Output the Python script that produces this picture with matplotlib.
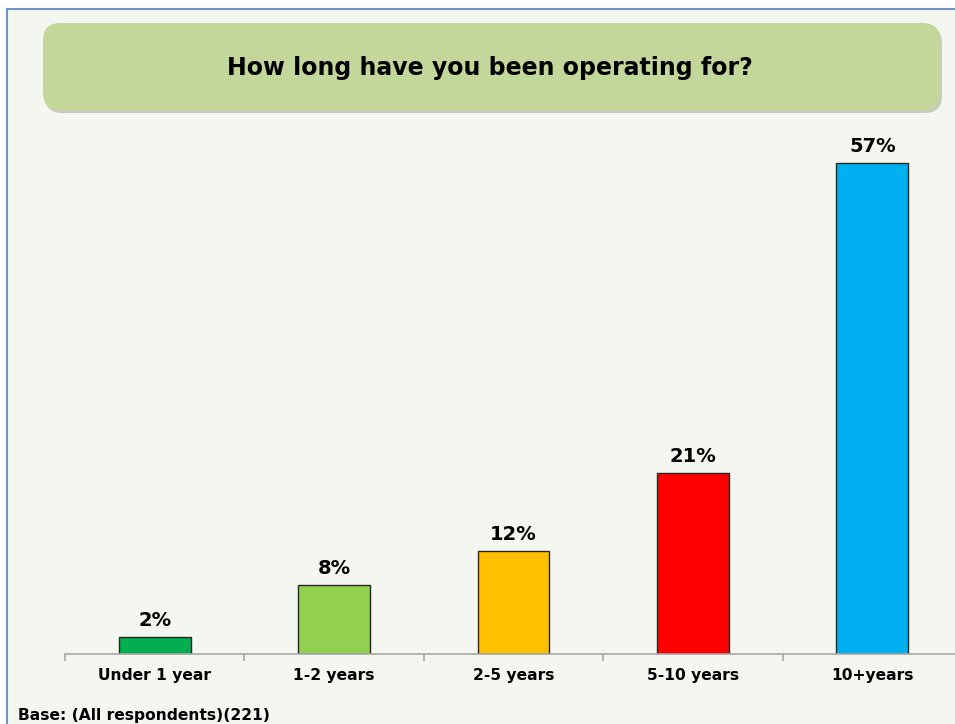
import matplotlib
matplotlib.use('Agg')
import matplotlib.pyplot as plt
from matplotlib.patches import FancyBboxPatch, Rectangle
import numpy as np

# data
categories = ['Under 1 year', '1-2 years', '2-5 years', '5-10 years', '10+years']
values = [2, 8, 12, 21, 57]
bar_colors = ['#00B050', '#92D050', '#FFC000', '#FF0000', '#00B0F0']
title = 'How long have you been operating for?'
footer = 'Base: (All respondents)(221)'

W, H = 955, 724
bg = '#F4F7EF'

fig = plt.figure(figsize=(W / 100, H / 100), dpi=100)
fig.patch.set_facecolor('white')


def fx(px):
    return px / W


def fy(py):
    return 1 - py / H


# panel background with blue border (runs off the right / bottom edge)
fig.patches.append(Rectangle((fx(7), fy(1000)), fx(1100), fy(9) - fy(1000),
                             transform=fig.transFigure, facecolor=bg,
                             edgecolor='#6F95CB', linewidth=1.5, zorder=-2))

# title box with soft shadow
box_kw = dict(boxstyle='round,pad=0,rounding_size=0.018', transform=fig.transFigure,
              mutation_aspect=W / H)
fig.patches.append(FancyBboxPatch((fx(45), fy(113)), fx(940 - 43), fy(23) - fy(110),
                                  facecolor='#A9AE9E', edgecolor='none', alpha=0.6,
                                  zorder=-1.5, **box_kw))
fig.patches.append(FancyBboxPatch((fx(43), fy(110)), fx(940 - 43), fy(23) - fy(110),
                                  facecolor='#C4D79B', edgecolor='none', zorder=-1,
                                  **box_kw))
fig.text(fx(490), fy(68), title, ha='center', va='center', fontsize=17,
         fontweight='bold', color='black', zorder=3)

# axes
ax_bottom, ax_top = 654, 137
ax = fig.add_axes([fx(65), fy(ax_bottom), fx(962 - 65), (ax_bottom - ax_top) / H])
ax.set_zorder(2)
ax.set_facecolor('none')
x = np.arange(len(categories))
bars = ax.bar(x, values, width=0.4, color=bar_colors, edgecolor='#262626', linewidth=1)
ax.set_xlim(-0.5, len(categories) - 0.5)
ax.set_ylim(0, 60)

for rect, v in zip(bars, values):
    ax.annotate(f'{v}%', (rect.get_x() + rect.get_width() / 2, rect.get_height()),
                xytext=(0, 5), textcoords='offset points', ha='center', va='bottom',
                fontsize=14, fontweight='bold')

for side in ['top', 'right', 'left']:
    ax.spines[side].set_visible(False)
ax.spines['bottom'].set_color('#A6A6A6')
ax.spines['bottom'].set_linewidth(1.2)
ax.set_yticks([])
ax.set_xticks(x)
ax.set_xticklabels(categories, fontsize=11.2, fontweight='bold')
ax.tick_params(axis='x', which='major', length=0, pad=10)
ax.set_xticks(np.arange(len(categories) + 1) - 0.5, minor=True)
ax.tick_params(axis='x', which='minor', length=5, color='#A6A6A6', width=1.2)

fig.text(fx(18), fy(708), footer, ha='left', va='top', fontsize=11.2,
         fontweight='bold')

fig.savefig('out.png', dpi=100, facecolor=fig.get_facecolor())
